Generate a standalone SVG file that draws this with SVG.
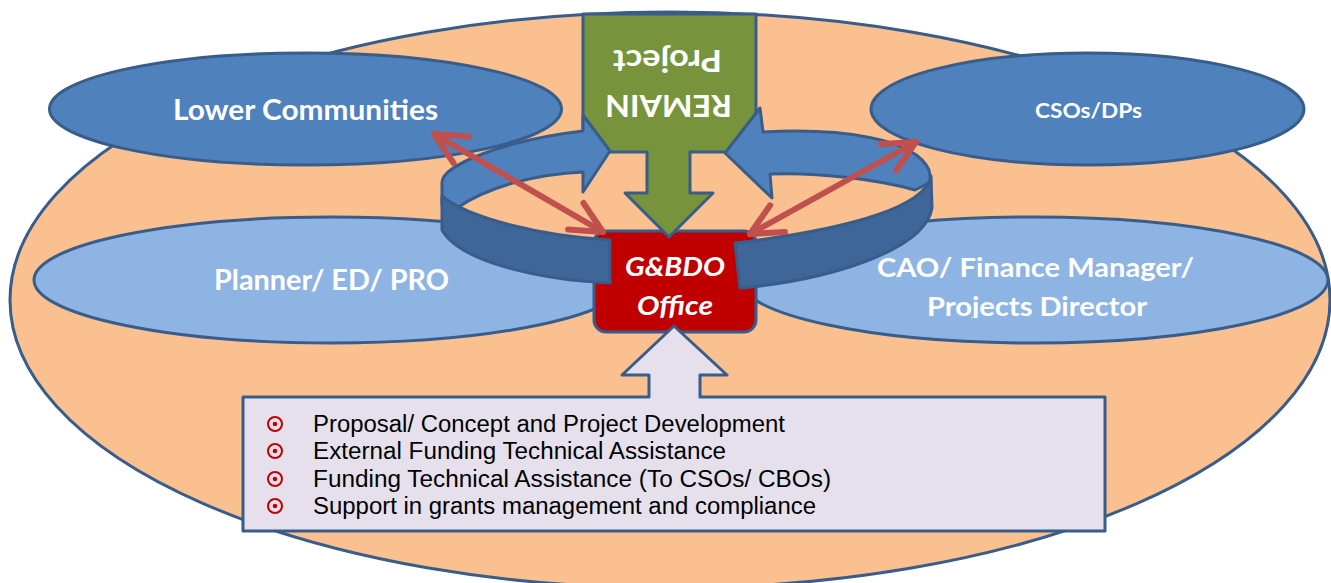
<svg xmlns="http://www.w3.org/2000/svg" width="1331" height="583" viewBox="0 0 1331 583">
  <style>
    .edge { stroke: #385D8A; stroke-width: 3; stroke-linejoin: round; }
    .dark-oval { fill: #4F81BD; }
    .light-oval { fill: #8EB4E3; }
    .label { font-family: Lato, "Open Sans", "DejaVu Sans", sans-serif; font-weight: bold; fill: #FFFFFF; }
    .ring-back { fill: #4F81BD; }
    .ring-front { fill: #3F6698; }
    .link { fill: none; stroke: #C0504D; stroke-width: 6; stroke-linecap: round; }
    .item { font-family: "Liberation Sans", Arial, sans-serif; font-size: 23px; fill: #000000; }
    .dot-ring { fill: none; stroke: #C00000; stroke-width: 2; }
    .dot { fill: #C00000; }
  </style>
  <defs>
    <marker id="vhead" markerUnits="userSpaceOnUse" viewBox="-40 -20 44 40" markerWidth="44" markerHeight="40" refX="0" refY="0" orient="auto-start-reverse" overflow="visible">
      <path d="M-31.5,-15.3 L0,0 L-31.5,15.3" fill="none" stroke="#C0504D" stroke-width="6" stroke-linecap="round" stroke-linejoin="round"/>
    </marker>
    <clipPath id="cut-descender">
      <rect x="900" y="290" width="280" height="28"/>
    </clipPath>
  </defs>

  <!-- outer organisation field -->
  <g id="field">
    <ellipse cx="670" cy="300" rx="660" ry="288" fill="#FAC090" class="edge"/>
  </g>

  <!-- stakeholder ovals -->
  <g id="cao">
    <ellipse cx="1034" cy="280" rx="294" ry="63" class="light-oval edge"/>
    <text class="label" font-size="27" x="877" y="277" textLength="317" lengthAdjust="spacingAndGlyphs">CAO/ Finance Manager/</text>
    <text class="label" font-size="27" x="927" y="316" textLength="220" lengthAdjust="spacingAndGlyphs" clip-path="url(#cut-descender)">Projects Director</text>
  </g>

  <g id="planner">
    <ellipse cx="331" cy="280" rx="297" ry="63" class="light-oval edge"/>
    <text class="label" font-size="28" x="214" y="290" textLength="235" lengthAdjust="spacingAndGlyphs">Planner/ ED/ PRO</text>
  </g>

  <g id="lower-communities">
    <ellipse cx="305.5" cy="109" rx="256" ry="56" class="dark-oval edge"/>
    <text class="label" font-size="28" x="173" y="120" textLength="265" lengthAdjust="spacingAndGlyphs">Lower Communities</text>
  </g>

  <g id="csos-dps">
    <ellipse cx="1087.5" cy="109" rx="216.5" ry="56" class="dark-oval edge"/>
    <text class="label" font-size="21" x="1035" y="118" textLength="107" lengthAdjust="spacingAndGlyphs">CSOs/DPs</text>
  </g>

  <!-- central office -->
  <g id="gbdo-office">
    <rect x="594" y="231" width="162" height="101" rx="12" ry="12" fill="#C00000" class="edge"/>
    <text class="label" font-size="27" font-style="italic" x="625" y="276" textLength="100" lengthAdjust="spacingAndGlyphs">G&amp;BDO</text>
    <text class="label" font-size="27" font-style="italic" x="637" y="315" textLength="76" lengthAdjust="spacingAndGlyphs">Office</text>
  </g>

  <!-- down arrow into the office -->
  <g id="remain-project">
    <path d="M583,14 L756,14 L756,152 L690,152 L690,193 L713,193 L669,237 L625,193 L647,193 L647,152 L583,152 Z" fill="#77933C" class="edge"/>
    <g transform="rotate(180 668.5 83)">
      <text class="label" font-size="31" x="605" y="71" textLength="127" lengthAdjust="spacingAndGlyphs">REMAIN</text>
      <text class="label" font-size="31" x="615" y="116" textLength="109" lengthAdjust="spacingAndGlyphs">Project</text>
    </g>
  </g>

  <!-- circular cycle arrows around the office -->
  <g id="cycle-left">
    <path class="ring-back edge" d="M442,205 L442,182 C443,165 505,140 583,131 L583,115 L610,151 L583,192 L583,172 C540,174 490,185 457,208 Z"/>
    <path class="ring-front edge" d="M442,196 C468,218 540,236 610,240 L610,283 C540,280 460,262 442,230 Z"/>
  </g>
  <g id="cycle-right">
    <path class="ring-back edge" d="M763,132 C840,128 915,138 929,170 L931,182 L915,190 C880,180 820,172 770,174 L772,198 L725,153 L760,108 Z"/>
    <path class="ring-front edge" d="M931,176 C925,205 860,228 735,243 L740,288 C830,280 925,250 932,208 Z"/>
  </g>

  <!-- services callout pointing up to the office -->
  <g id="services">
    <path d="M243,397 L649,397 L649,375 L622,375 L674,326 L727,375 L700,375 L700,397 L1105,397 L1105,531 L243,531 Z" fill="#E6E0EC" class="edge"/>
    <circle class="dot-ring" cx="275" cy="424" r="7"/><circle class="dot" cx="275" cy="424" r="2.3"/>
    <circle class="dot-ring" cx="275" cy="451" r="7"/><circle class="dot" cx="275" cy="451" r="2.3"/>
    <circle class="dot-ring" cx="275" cy="479" r="7"/><circle class="dot" cx="275" cy="479" r="2.3"/>
    <circle class="dot-ring" cx="275" cy="506" r="7"/><circle class="dot" cx="275" cy="506" r="2.3"/>
    <text class="item" x="313" y="432" textLength="472" lengthAdjust="spacingAndGlyphs">Proposal/ Concept and Project Development</text>
    <text class="item" x="313" y="459" textLength="413" lengthAdjust="spacingAndGlyphs">External Funding Technical Assistance</text>
    <text class="item" x="313" y="487" textLength="518" lengthAdjust="spacingAndGlyphs">Funding Technical Assistance (To CSOs/ CBOs)</text>
    <text class="item" x="313" y="514" textLength="503" lengthAdjust="spacingAndGlyphs">Support in grants management and compliance</text>
  </g>

  <!-- two-way links between the office and the outer partners -->
  <g id="connectors">
    <path class="link" d="M434,134 L603,232" marker-start="url(#vhead)" marker-end="url(#vhead)"/>
    <path class="link" d="M916,142 L750,234" marker-start="url(#vhead)" marker-end="url(#vhead)"/>
  </g>
</svg>
